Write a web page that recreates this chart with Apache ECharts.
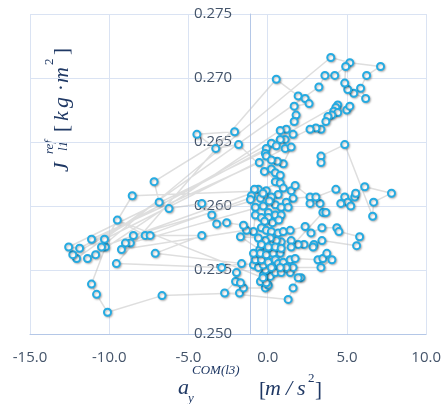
<!DOCTYPE html>
<html>
<head>
  <meta charset="UTF-8">
  <title>Inertia vs acceleration</title>
  <style>
    * { margin: 0; padding: 0; }
    html, body { width: 444px; height: 404px; background: #fff; }
    #chart { width: 444px; height: 404px; }
  </style>
  <script src="https://cdn.jsdelivr.net/npm/echarts@6/dist/echarts.min.js"></script>
</head>
<body>
  <div id="chart"></div>
  <script>
    // axis ticks
    var xTicks = [-15, -10, -5, 0, 5, 10];
    var yTicks = [0.250, 0.255, 0.260, 0.265, 0.270, 0.275];

    var trial1 = [[-10.24,0.2568],[-11.12,0.2539],[-10.8,0.2531],[-10.11,0.2517],[-6.67,0.2530],[-1.78,0.2532],[-1.53,0.2536],[-0.15,0.2536],[0.04,0.2538],[-0.46,0.2541],[-0.09,0.2540],[0.16,0.2545],[-0.28,0.2546],[-0.15,0.2550],[0.48,0.2548],[0.85,0.2548],[1.42,0.2548],[2.1,0.2544],[1.92,0.2544],[1.6,0.2536],[1.29,0.2527],[-2.72,0.2532],[-2.03,0.2541],[-1.72,0.2540],[-1.97,0.2548],[-1.65,0.2555],[-2.91,0.2552],[-9.55,0.2555]];
    var trial2 = [[0.54,0.2699],[1.92,0.2686],[2.36,0.2684],[2.61,0.2680],[1.67,0.2678],[1.79,0.2671],[1.67,0.2666],[1.17,0.2660],[0.79,0.2659],[-10.86,0.2562]];
    var trial3 = [[-11.37,0.2559],[3.98,0.2716],[5.18,0.2712],[7.12,0.2709],[6.24,0.2702],[5.86,0.2692],[6.18,0.2684],[5.43,0.2688],[5.05,0.2691],[4.86,0.2696],[4.92,0.2709],[4.23,0.2702],[3.61,0.2702],[3.23,0.2693],[-12.06,0.2559]];
    var trial4 = [[-12.3,0.2562],[4.42,0.2679],[4.3,0.2677],[4.17,0.2674],[4.42,0.2673],[4.99,0.2675],[5.18,0.2678],[4.05,0.2671],[3.8,0.2670],[3.67,0.2666],[3.36,0.2660],[3.04,0.2661],[2.67,0.2660],[-12.56,0.2568]];
    var trial5 = [[-11.87,0.2567],[1.6,0.2656],[1.1,0.2652],[0.79,0.2652],[0.23,0.2649],[0.54,0.2647],[-0.09,0.2645],[-0.15,0.2641],[-0.09,0.2639],[-0.53,0.2634],[-11.12,0.2574]];
    var trial6 = [[-10.3,0.2574],[1.1,0.2645],[1.48,0.2646],[0.98,0.2633],[0.6,0.2635],[0.23,0.2636],[-0.21,0.2627],[0.23,0.2629],[0.48,0.2626],[0.79,0.2624],[0.48,0.2619],[0.79,0.2618],[-10.49,0.2568]];
    var trial7 = [[-8.55,0.2608],[-0.09,0.2612],[-0.59,0.2613],[-0.84,0.2613],[-1.03,0.2608],[-1.09,0.2605],[-0.78,0.2599],[-0.78,0.2593],[-0.9,0.2580],[-1.34,0.2581],[-1.53,0.2585],[-2.59,0.2587],[-3.22,0.2586],[-3.53,0.2593],[-4.16,0.2602],[-6.23,0.2598],[-6.85,0.2603],[-7.17,0.2619],[-2.09,0.2658],[-4.47,0.2656],[-3.28,0.2645],[-1.84,0.2648],[0.98,0.2614],[1.48,0.2612],[1.73,0.2616],[2.67,0.2607],[1.6,0.2606],[1.17,0.2603],[0.66,0.2609],[0.23,0.2607],[-0.46,0.2606],[-8.48,0.2577]];
    var trial8 = [[-8.67,0.2571],[-0.28,0.2600],[0.48,0.2601],[0.85,0.2599],[1.29,0.2599],[0.04,0.2595],[-0.4,0.2591],[0.04,0.2591],[0.48,0.2593],[0.85,0.2593],[0.3,0.2587],[-0.2,0.2588],[0.7,0.2589],[0.1,0.2604],[-0.3,0.2610],[-8.98,0.2571]];
    var trial9 = [[-9.23,0.2566],[-0.4,0.2583],[-0.09,0.2581],[0.23,0.2580],[0.66,0.2579],[0.98,0.2580],[1.42,0.2581],[2.36,0.2584],[2.73,0.2579],[3.42,0.2583],[4.36,0.2583],[4.49,0.2580],[5.8,0.2576],[5.61,0.2569],[3.42,0.2573],[2.92,0.2570],[2.86,0.2568],[2.29,0.2570],[1.92,0.2570],[1.48,0.2573],[0.85,0.2572],[0.54,0.2573],[0.16,0.2575],[-0.15,0.2573],[-0.59,0.2575],[-1.72,0.2576],[-0.5,0.2566],[0.2,0.2561],[0.6,0.2565],[-0.3,0.2544],[-9.49,0.2589]];
    var trial10 = [[-7.73,0.2577],[-7.42,0.2577],[-4.16,0.2577],[-7.1,0.2563],[-0.9,0.2554],[-0.59,0.2552],[-0.28,0.2554],[-0.78,0.2558],[-0.4,0.2558],[-0.9,0.2563],[-0.46,0.2563],[-0.09,0.2562],[0.35,0.2563],[0.79,0.2563],[0.04,0.2556],[0.48,0.2558],[0.66,0.2555],[0.98,0.2556],[1.42,0.2558],[1.73,0.2559],[3.17,0.2558],[3.48,0.2559],[3.73,0.2563],[4.05,0.2558],[3.36,0.2552],[1.6,0.2552],[1.17,0.2552],[0.79,0.2552],[0.23,0.2552],[-0.4,0.2570],[0.04,0.2568],[0.48,0.2568],[0.85,0.2567],[1.48,0.2568],[3.48,0.2595],[3.67,0.2595],[3.3,0.2602],[2.67,0.2602],[3.04,0.2607],[4.3,0.2613],[4.86,0.2607],[5.05,0.2603],[4.61,0.2602],[5.24,0.2600],[5.49,0.2607],[5.55,0.2610],[6.12,0.2615],[7.81,0.2610],[6.68,0.2603],[6.62,0.2592],[4.86,0.2648],[3.36,0.2639],[3.36,0.2634]];

    var samples = [].concat(trial1, trial2, trial3, trial4, trial5, trial6, trial7, trial8, trial9, trial10);

    var titleColor = '#1f3864';
    var serif = 'Liberation Serif';

    // one piece of the math-style axis titles
    function txt(x, y, s, size, italic) {
      return {
        type: 'text', x: x, y: y, silent: true,
        style: {
          text: s, fontSize: size, fontFamily: serif,
          fontStyle: italic ? 'italic' : 'normal',
          fill: titleColor, align: 'left', verticalAlign: 'middle'
        }
      };
    }

    var chart = echarts.init(document.getElementById('chart'));
    var option = {
      backgroundColor: '#fff',
      animation: false,
      grid: { left: 30, right: 15, top: 14, bottom: 70 },
      xAxis: {
        type: 'value',
        min: xTicks[0],
        max: xTicks[xTicks.length - 1],
        interval: 5,
        axisLine: { onZero: false, lineStyle: { color: '#b4c7e7', width: 1 } },
        axisTick: { show: false },
        axisLabel: {
          margin: 16, color: '#44546a', fontSize: 15, fontFamily: 'Open Sans',
          formatter: function (v) { return v.toFixed(1); }
        },
        splitLine: { lineStyle: { color: '#dae3f3', width: 1 } }
      },
      yAxis: {
        type: 'value',
        min: yTicks[0],
        max: yTicks[yTicks.length - 1],
        interval: 0.005,
        axisLine: { show: true, onZero: false, lineStyle: { color: '#b4c7e7', width: 1 } },
        axisTick: { show: false },
        axisLabel: {
          margin: 18, color: '#44546a', fontSize: 15, fontFamily: 'Open Sans',
          formatter: function (v) { return v.toFixed(3); }
        },
        splitLine: { lineStyle: { color: '#dae3f3', width: 1 } }
      },
      series: [{
        type: 'line',
        data: samples,
        symbol: 'circle',
        symbolSize: 7,
        showAllSymbol: true,
        lineStyle: { color: 'rgba(190,190,190,0.5)', width: 1.5 },
        itemStyle: {
          color: '#fff', borderColor: '#25abe2', borderWidth: 2,
          shadowBlur: 2, shadowColor: 'rgba(0,0,0,0.25)', shadowOffsetX: 1, shadowOffsetY: 1
        },
        emphasis: { disabled: true }
      }],
      graphic: [
        // x axis title: a_y^{COM(l3)} [m/s^2]
        txt(178, 388, 'a', 22, true),
        txt(188, 399, 'y', 13, true),
        txt(192, 371, 'COM(l3)', 13, true),
        txt(259, 390, '[', 21, false),
        txt(265, 389, 'm', 22, true),
        txt(286, 389, '/', 22, true),
        txt(297, 389, 's', 22, true),
        txt(308, 379, '2', 13, false),
        txt(315, 390, ']', 21, false),
        // y axis title: J_l1^ref [kg·m^2], turned to read upwards
        {
          type: 'group', x: 62, y: 172, rotation: Math.PI / 2,
          children: [
            txt(0, 0, 'J', 22, true),
            txt(18, -12, 'ref', 13, true),
            txt(21, 2, 'l1', 13, true),
            txt(40, 0, '[', 21, false),
            txt(51, 0, 'k', 22, true),
            txt(64, 0, 'g', 22, true),
            txt(81, 0, '·', 21, false),
            txt(89, 0, 'm', 22, true),
            txt(107, -12, '2', 13, false),
            txt(117, 0, ']', 21, false)
          ]
        }
      ]
    };
    chart.setOption(option);

    // move the y axis onto x = 0, the way the original chart crosses its axes
    var zeroPx = chart.convertToPixel({ xAxisIndex: 0 }, 0);
    var leftPx = chart.convertToPixel({ xAxisIndex: 0 }, xTicks[0]);
    chart.setOption({ yAxis: { offset: leftPx - zeroPx } });
  </script>
</body>
</html>
